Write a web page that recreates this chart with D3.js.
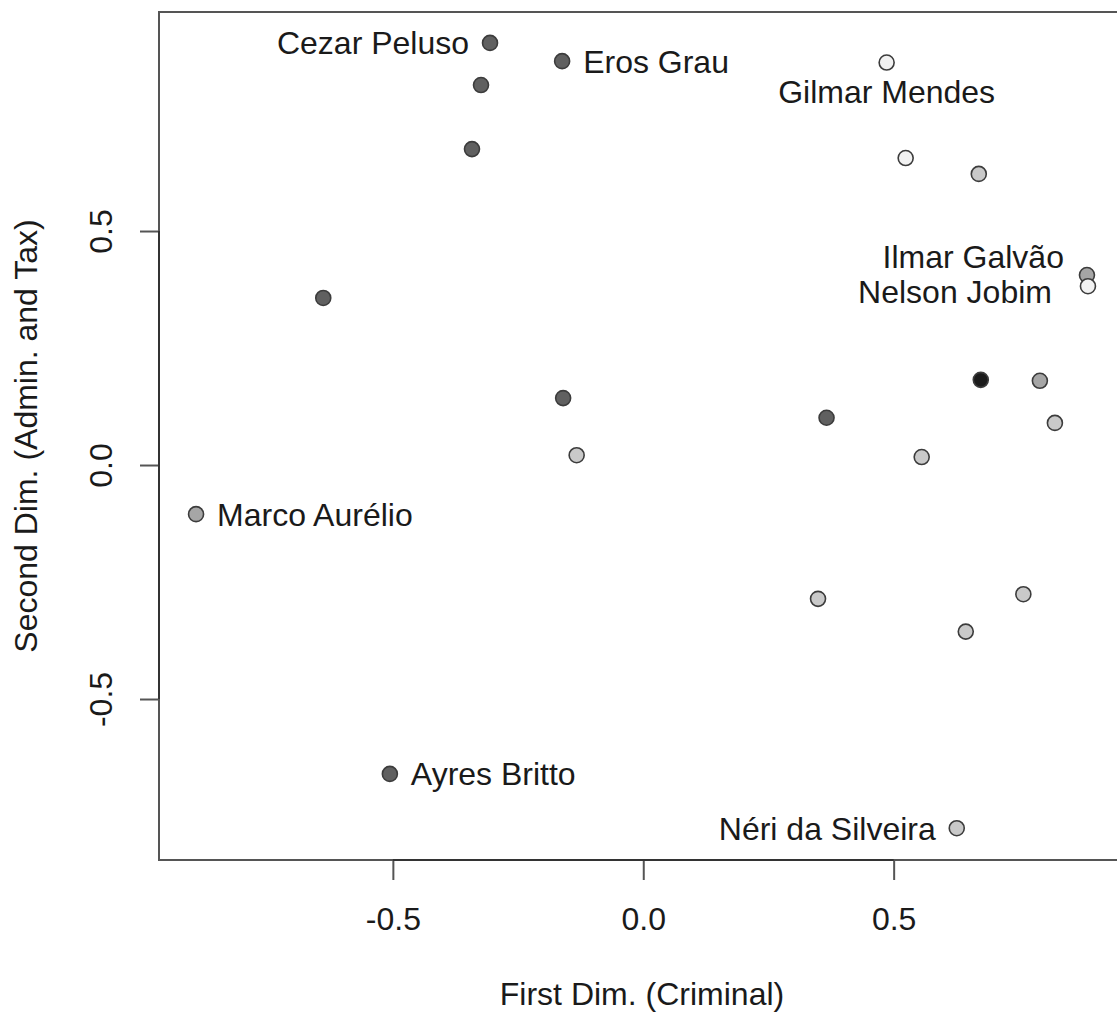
<!DOCTYPE html>
<html>
<head>
<meta charset="utf-8">
<script src="https://cdn.jsdelivr.net/npm/d3@7"></script>
<style>
  html, body { margin: 0; padding: 0; background: #fff; }
  svg { display: block; }
  text { font-family: "Liberation Sans", Arial, Helvetica, sans-serif; fill: #1a1a1a; }
</style>
</head>
<body>
<script>
// ---- data ----
const firstDim  = [-0.306, -0.324, -0.342, -0.162, 0.486, 0.524, 0.670, 0.886, 0.888, -0.639,
                   -0.160, -0.133, 0.674, 0.792, 0.366, 0.822, 0.556, 0.349, 0.759, 0.644,
                   -0.893, -0.506, 0.626];
const secondDim = [0.902, 0.812, 0.675, 0.863, 0.860, 0.656, 0.622, 0.406, 0.382, 0.357,
                   0.143, 0.021, 0.182, 0.180, 0.101, 0.090, 0.017, -0.286, -0.276, -0.356,
                   -0.105, -0.660, -0.776];
// shade group of each justice (0 = black ... 4 = white)
const shadeGroup = [1, 1, 1, 1, 4, 4, 3, 2, 4, 1,
                    1, 3, 0, 2, 1, 3, 3, 3, 3, 3,
                    2, 1, 3];
const labelNames  = ["Cezar Peluso", "Eros Grau", "Gilmar Mendes", "Ilmar Galvão", "Nelson Jobim",
                     "Marco Aurélio", "Ayres Britto", "Néri da Silveira"];
const labelPoint  = [0, 3, 4, 7, 8, 20, 21, 22];
const labelSide   = ["left", "right", "below", "left", "left", "right", "right", "left"];
const xTicks = [-0.5, 0.0, 0.5];
const yTicks = [-0.5, 0.0, 0.5];
const xTitle = "First Dim. (Criminal)";
const yTitle = "Second Dim. (Admin. and Tax)";

// ---- layout ----
const W = 1117, H = 1015;
const L = 159, T = 12, B = 860;
const FS = 32;

const svg = d3.select("body").append("svg").attr("width", W).attr("height", H);

const x = d3.scaleLinear().domain([-0.967, 0.946]).range([L, 1117]);
const y = d3.scaleLinear().domain([-0.844, 0.968]).range([B, T]);
const shade = d3.scaleOrdinal().domain([0, 1, 2, 3, 4])
  .range(["#1c1c1c", "#606060", "#a6a6a6", "#c9c9c9", "#f2f2f2"]);

// plot box (right edge runs off the picture)
svg.append("rect").attr("x", L).attr("y", T).attr("width", 1000).attr("height", B - T)
  .attr("fill", "none").attr("stroke", "#555").attr("stroke-width", 2);

// x axis
const xa = svg.append("g").attr("transform", `translate(0,${B})`)
  .call(d3.axisBottom(x).tickValues(xTicks).tickSize(20).tickFormat(d => d.toFixed(1)));
xa.select(".domain").remove();
xa.append("line").attr("x1", x(xTicks[0])).attr("x2", x(xTicks[xTicks.length - 1]))
  .attr("y1", 0).attr("y2", 0).attr("stroke", "#333").attr("stroke-width", 2);
xa.selectAll(".tick line").attr("stroke", "#555").attr("stroke-width", 2);
xa.selectAll(".tick text").attr("y", 70).attr("dy", null)
  .attr("font-size", FS).attr("fill", "#1a1a1a")
  .style("font-family", "Liberation Sans, Arial, sans-serif");

// y axis
const ya = svg.append("g").attr("transform", `translate(${L},0)`)
  .call(d3.axisLeft(y).tickValues(yTicks).tickSize(19).tickFormat(d => d.toFixed(1)));
ya.select(".domain").remove();
ya.append("line").attr("y1", y(yTicks[0])).attr("y2", y(yTicks[yTicks.length - 1]))
  .attr("x1", 0).attr("x2", 0).attr("stroke", "#333").attr("stroke-width", 2);
ya.selectAll(".tick line").attr("stroke", "#555").attr("stroke-width", 2);
ya.selectAll(".tick text")
  .attr("x", null).attr("dy", null)
  .attr("transform", "translate(-47,0) rotate(-90)")
  .attr("text-anchor", "middle")
  .attr("font-size", FS).attr("fill", "#1a1a1a")
  .style("font-family", "Liberation Sans, Arial, sans-serif");

// axis titles
svg.append("text").attr("x", (L + 1117) / 2 + 4).attr("y", 1005)
  .attr("text-anchor", "middle").attr("font-size", FS).text(xTitle);
svg.append("text").attr("transform", `translate(37,${436}) rotate(-90)`)
  .attr("text-anchor", "middle").attr("font-size", FS).text(yTitle);

// points
svg.append("g").selectAll("circle").data(firstDim.map((v, i) => i)).join("circle")
  .attr("cx", i => x(firstDim[i])).attr("cy", i => y(secondDim[i]))
  .attr("r", 7.5).attr("fill", i => shade(shadeGroup[i]))
  .attr("stroke", "#3c3c3c").attr("stroke-width", 1.6);

// labels
const nudge = { "Ilmar Galvão": [-2, -19], "Nelson Jobim": [-15, 5], "Gilmar Mendes": [0, 29] };
svg.append("g").selectAll("text").data(labelNames).join("text")
  .attr("font-size", FS)
  .attr("text-anchor", (d, i) => labelSide[i] === "left" ? "end" : labelSide[i] === "right" ? "start" : "middle")
  .attr("x", (d, i) => {
    const px = x(firstDim[labelPoint[i]]);
    const off = labelSide[i] === "left" ? -21 : labelSide[i] === "right" ? 21 : 0;
    return px + off + (nudge[d] ? nudge[d][0] : 0);
  })
  .attr("y", (d, i) => y(secondDim[labelPoint[i]]) + (nudge[d] ? nudge[d][1] : 0))
  .attr("dy", "0.36em")
  .text(d => d);
</script>
</body>
</html>
